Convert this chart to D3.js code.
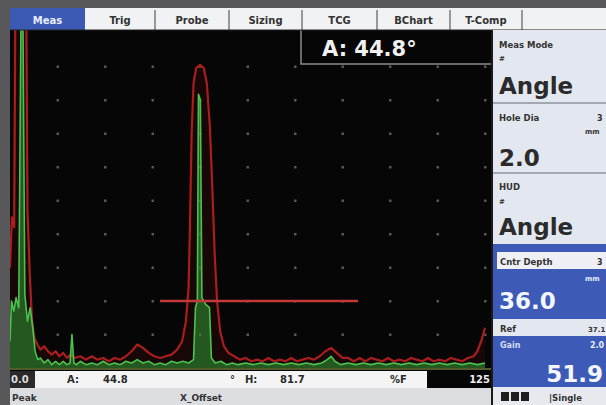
<!DOCTYPE html>
<html>
<head>
<meta charset="utf-8">
<script src="https://cdn.jsdelivr.net/npm/d3@7"></script>
<style>
  body { margin: 0; background: #58585a; }
  svg { display: block; font-family: "DejaVu Sans", sans-serif; font-weight: bold; }
</style>
</head>
<body>
<div id="scope"></div>
<script>
// A-scan range (mm) and amplitude (% full screen height)
const rangeMM = [0, 125];
const ampPct = [0, 100];

// peak memory envelope (red), [mm, %FSH]
const peakTrace = [
  [0, 30], [0.5, 45], [1.1, 42], [1.4, 105], [4.3, 105], [4.6, 47], [5.2, 28], [5.8, 14],
  [6.4, 9], [7.2, 7], [8.0, 5.5], [9.0, 6.5], [10.0, 5], [11.0, 4], [12.0, 5], [13.0, 3.5],
  [14.0, 4.5], [15.0, 3], [16.0, 4], [17.0, 3], [18.5, 3.5], [20.0, 2.5], [21.5, 3.5],
  [23.0, 2.5], [24.5, 3], [26.0, 2], [27.5, 3], [29.0, 2.5], [30.5, 3.5], [32.0, 5],
  [33.5, 7], [35.0, 6], [36.5, 4.5], [38.0, 3.5], [39.5, 3], [41.0, 3.5], [42.5, 4],
  [44.0, 5.5], [45.3, 8], [46.3, 14], [47.0, 24], [47.4, 45], [47.8, 70], [48.3, 85],
  [49.0, 89.5], [50.0, 90.5], [51.0, 89.5], [51.8, 85], [52.6, 72], [53.3, 52], [53.9, 33],
  [54.5, 20], [55.3, 11], [56.3, 6.5], [57.5, 4.5], [59.0, 3.5], [60.5, 2.5], [62.0, 3],
  [63.5, 2], [65.0, 2.5], [66.5, 2], [68.0, 3], [69.5, 2], [71.0, 2.5], [72.5, 2], [74.0, 3],
  [75.5, 2], [77.0, 2.5], [78.5, 3], [80.0, 2.5], [81.5, 3.5], [83.0, 5], [84.5, 6],
  [86.0, 4.5], [87.5, 3], [89.0, 3], [90.5, 2], [92.0, 3], [93.5, 2], [95.0, 3], [96.5, 2.5],
  [98.0, 2], [99.5, 3], [101.0, 2], [102.5, 2.5], [104.0, 2], [105.5, 3], [107.0, 2.5],
  [108.5, 2], [110.0, 3], [111.5, 2], [113.0, 2.5], [114.5, 2], [116.0, 3], [117.5, 2.5],
  [119.0, 2], [120.5, 3], [122.0, 3.5], [123.0, 5], [124.0, 8], [125.0, 12]
];

// live rectified signal (green), [mm, %FSH]
const liveTrace = [
  [0, 8], [0.4, 20], [1.0, 17], [1.6, 21], [2.3, 18], [2.9, 105], [3.4, 105], [3.9, 22],
  [4.6, 14], [5.3, 18], [6.0, 12], [6.6, 5], [7.3, 2.5], [8.0, 3], [9.0, 1.5], [10.0, 2.5],
  [11.0, 1], [12.0, 2], [13.0, 1], [14.0, 2], [15.0, 1], [15.8, 1.5], [16.3, 10], [16.8, 1.5],
  [17.5, 1], [18.5, 2], [20.0, 1], [21.5, 1.5], [23.0, 1], [24.5, 2], [26.0, 1], [27.5, 1.5],
  [29.0, 1], [30.5, 2], [32.0, 1.5], [33.5, 2.5], [35.0, 1.5], [36.5, 2], [38.0, 1],
  [39.5, 1.5], [41.0, 1], [42.5, 2], [44.0, 1.5], [45.5, 2], [47.0, 1.5], [48.3, 2.5],
  [48.8, 18], [49.3, 20], [49.6, 81.7], [50.1, 80], [50.5, 21], [51.5, 19], [52.5, 18],
  [53.0, 3], [54.0, 1.5], [55.5, 2], [57.0, 1], [58.5, 1.5], [60.0, 1], [62.0, 1.5], [64.0, 1],
  [66.0, 1.5], [68.0, 1], [70.0, 1.5], [72.0, 1], [74.0, 1.5], [76.0, 1], [78.0, 1.5],
  [80.0, 1], [82.0, 1.5], [83.5, 2.5], [84.5, 3.5], [85.5, 2], [87.0, 1], [89.0, 1.5],
  [91.0, 1], [93.0, 1.5], [95.0, 1], [97.0, 1.5], [99.0, 1], [101.0, 1.5], [103.0, 1],
  [105.0, 1.5], [107.0, 1], [109.0, 1.5], [111.0, 1], [113.0, 1.5], [115.0, 1], [117.0, 1.5],
  [119.0, 1], [121.0, 1.5], [123.0, 1], [125.0, 1.5]
];

// gate A: start, end (mm), level (%)
const gateA = [39.5, 91.6, 20];

// menu tabs
const tabNames = ["Meas", "Trig", "Probe", "Sizing", "TCG", "BChart", "T-Comp"];
const tabEdges = [10, 85, 155, 229, 302, 377, 450, 522];

// readouts
const hudValue = "A: 44.8°";
const statusRow = [["A:", 67], ["44.8", 103], ["°", 230], ["H:", 245], ["81.7", 280], ["%F", 390]];

const W = 606, H = 405;
const plot = { left: 10, right: 485, top: 33, bottom: 368 };

const x = d3.scaleLinear().domain(rangeMM).range([plot.left, plot.right]);
const y = d3.scaleLinear().domain(ampPct).range([plot.bottom, plot.top]);

const svg = d3.select("#scope").append("svg")
  .attr("width", W)
  .attr("height", H);

svg.append("rect").attr("width", W).attr("height", H).attr("fill", "#58585a");

// screen background
svg.append("rect")
  .attr("x", 10).attr("y", 30).attr("width", 482).attr("height", 341)
  .attr("fill", "#060606");

// grid dots at each division
const gx = d3.range(12.5, 125.01, 12.5);
const gy = d3.range(10, 91, 10);
const dots = [];
gx.forEach(a => gy.forEach(b => dots.push([a, b])));
svg.append("g").selectAll("rect")
  .data(dots)
  .enter().append("rect")
  .attr("x", d => x(d[0]) - 1)
  .attr("y", d => y(d[1]) - 1)
  .attr("width", 2.5).attr("height", 2.5)
  .attr("fill", "#7a7a7a")
  .attr("opacity", 0.7);

// clip traces to screen
svg.append("clipPath").attr("id", "screen")
  .append("rect").attr("x", 10).attr("y", 30).attr("width", 480).attr("height", 339);

const traces = svg.append("g").attr("clip-path", "url(#screen)");

const area = d3.area()
  .x(d => x(d[0]))
  .y0(y(0))
  .y1(d => y(d[1]));
const line = d3.line()
  .x(d => x(d[0]))
  .y(d => y(d[1]));

// red peak envelope
traces.append("path")
  .datum(peakTrace)
  .attr("d", area)
  .attr("fill", "#4a0a0a")
  .attr("opacity", 0.25);
traces.append("path")
  .datum(peakTrace)
  .attr("d", line)
  .attr("fill", "none")
  .attr("stroke", "#a81e1e")
  .attr("stroke-width", 2.2)
  .attr("stroke-linejoin", "round");

// green live signal
traces.append("path")
  .datum(liveTrace)
  .attr("d", area)
  .attr("fill", "#2f9a34")
  .attr("opacity", 0.55);
traces.append("path")
  .datum(liveTrace)
  .attr("d", line)
  .attr("fill", "none")
  .attr("stroke", "#4cc24e")
  .attr("stroke-width", 1.6)
  .attr("stroke-linejoin", "round");

// gate
svg.append("line")
  .attr("x1", x(gateA[0])).attr("x2", x(gateA[1]))
  .attr("y1", y(gateA[2])).attr("y2", y(gateA[2]))
  .attr("stroke", "#c23a3a")
  .attr("stroke-width", 2.4);

// baseline
svg.append("line")
  .attr("x1", 10).attr("x2", 492)
  .attr("y1", 369).attr("y2", 369)
  .attr("stroke", "#6b7a3a").attr("stroke-width", 1.5);

// HUD box
svg.append("rect")
  .attr("x", 301).attr("y", 30).attr("width", 191).attr("height", 34)
  .attr("fill", "#060606");
svg.append("path")
  .attr("d", "M301,30V64H492")
  .attr("fill", "none").attr("stroke", "#8c8c8c").attr("stroke-width", 1.5);
svg.append("text")
  .attr("x", 322).attr("y", 56)
  .attr("font-size", 21).attr("fill", "#f0f0f0")
  .text(hudValue);

// tab bar
svg.append("rect")
  .attr("x", 10).attr("y", 8).attr("width", 596).attr("height", 22)
  .attr("fill", "#f1f2f4");
svg.append("rect")
  .attr("x", tabEdges[0]).attr("y", 8).attr("width", tabEdges[1] - tabEdges[0]).attr("height", 22)
  .attr("fill", "#3c5ab4");
svg.append("g").selectAll("line")
  .data(tabEdges.slice(2))
  .enter().append("line")
  .attr("x1", d => d).attr("x2", d => d)
  .attr("y1", 10).attr("y2", 30)
  .attr("stroke", "#7a7a7a").attr("stroke-width", 1.5);
svg.append("g").selectAll("text")
  .data(tabNames)
  .enter().append("text")
  .attr("x", (d, i) => (tabEdges[i] + tabEdges[i + 1]) / 2)
  .attr("y", 24)
  .attr("text-anchor", "middle")
  .attr("font-size", 10)
  .attr("fill", (d, i) => i === 0 ? "#e8ecff" : "#333")
  .text(d => d);
svg.append("line")
  .attr("x1", 10).attr("x2", 606).attr("y1", 30).attr("y2", 30)
  .attr("stroke", "#222").attr("stroke-width", 1);

// status bar
svg.append("rect").attr("x", 35).attr("y", 371).attr("width", 392).attr("height", 17).attr("fill", "#f4f4f4");
svg.append("rect").attr("x", 10).attr("y", 371).attr("width", 25).attr("height", 17).attr("fill", "#2a2a2a");
svg.append("rect").attr("x", 427).attr("y", 371).attr("width", 65).attr("height", 17).attr("fill", "#060606");
svg.append("rect").attr("x", 10).attr("y", 388).attr("width", 482).attr("height", 17).attr("fill", "#dcdde0");
svg.append("text").attr("x", 11).attr("y", 383).attr("font-size", 10).attr("fill", "#ddd").text("0.0");
svg.append("text").attr("x", 490).attr("y", 383).attr("font-size", 10).attr("fill", "#eee")
  .attr("text-anchor", "end").text(rangeMM[1]);
svg.append("g").selectAll("text")
  .data(statusRow)
  .enter().append("text")
  .attr("x", d => d[1]).attr("y", 383)
  .attr("font-size", 10).attr("fill", "#2a2a2a")
  .text(d => d[0]);
svg.append("text").attr("x", 12).attr("y", 401).attr("font-size", 9).attr("fill", "#333").text("Peak");
svg.append("text").attr("x", 180).attr("y", 401).attr("font-size", 9).attr("fill", "#333").text("X_Offset");

// right panel
const panel = svg.append("g");
panel.append("rect").attr("x", 492).attr("y", 30).attr("width", 114).attr("height", 375).attr("fill", "#e3e7ef");
panel.append("line").attr("x1", 492).attr("x2", 492).attr("y1", 30).attr("y2", 405)
  .attr("stroke", "#1a1a1a").attr("stroke-width", 2);

function label(px, py, txt, size, color, anchor) {
  panel.append("text").attr("x", px).attr("y", py)
    .attr("font-size", size).attr("fill", color)
    .attr("text-anchor", anchor || "start")
    .text(txt);
}
function rule(py) {
  panel.append("line").attr("x1", 493).attr("x2", 606).attr("y1", py).attr("y2", py)
    .attr("stroke", "#a3a8b2").attr("stroke-width", 2);
}

label(499, 48, "Meas Mode", 8.5, "#333");
label(499, 61, "#", 7, "#333");
label(499, 94, "Angle", 23, "#2b2b2b");
rule(103);
label(499, 121, "Hole Dia", 8.5, "#333");
label(597, 121, "3", 8, "#333");
label(585, 134, "mm", 7, "#333");
label(499, 166, "2.0", 23, "#2b2b2b");
rule(173);
label(499, 190, "HUD", 8.5, "#333");
label(499, 204, "#", 7, "#333");
label(499, 235, "Angle", 23, "#2b2b2b");

panel.append("rect").attr("x", 493).attr("y", 244).attr("width", 113).attr("height", 75).attr("fill", "#3d5bb6");
panel.append("rect").attr("x", 497).attr("y", 252).attr("width", 109).attr("height", 17).attr("fill", "#eef0f6");
label(500, 265, "Cntr Depth", 8.5, "#333");
label(597, 265, "3", 8, "#333");
label(585, 281, "mm", 7, "#e6ebfa");
label(499, 309, "36.0", 23, "#f4f6ff");
label(500, 332, "Ref", 8.5, "#333");
label(588, 332, "37.1", 7, "#333");
panel.append("rect").attr("x", 493).attr("y", 336).attr("width", 113).attr("height", 51).attr("fill", "#3d5bb6");
label(500, 348, "Gain", 8, "#d5dcf3");
label(590, 348, "2.0", 8, "#e6ebfa");
label(603, 382, "51.9", 23, "#f4f6ff", "end");
panel.append("rect").attr("x", 493).attr("y", 387).attr("width", 113).attr("height", 18).attr("fill", "#e8e9ee");
panel.append("g").selectAll("rect.sq")
  .data([501, 511, 521])
  .enter().append("rect")
  .attr("x", d => d).attr("y", 392).attr("width", 8).attr("height", 9)
  .attr("fill", "#1e1e1e");
label(549, 401, "|Single", 8.5, "#333");
</script>
</body>
</html>
